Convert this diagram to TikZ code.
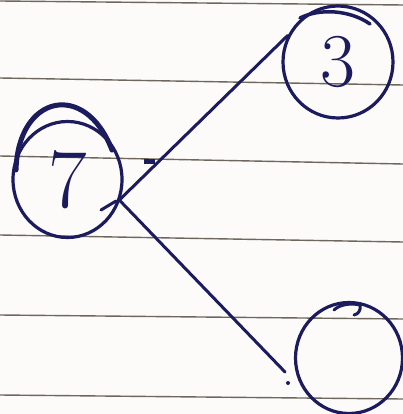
\documentclass[tikz,border=0pt]{standalone}
\usetikzlibrary{shapes.geometric}
\definecolor{ink}{HTML}{1B1B5E}
\definecolor{paper}{HTML}{FCFBFA}
\definecolor{rule}{HTML}{6E675C}
\begin{document}
\begin{tikzpicture}[x=1pt,y=-1pt,
  inkcircle/.style={draw=ink, line width=3.2pt, ellipse, inner sep=0pt,
    text=ink, font=\fontsize{84}{84}\selectfont},
  link/.style={draw=ink, line width=3pt, line cap=round},
  ruling/.style={draw=rule, line width=1.4pt}]
\fill[paper] (0,0) rectangle (403,414);
\useasboundingbox (0,0) rectangle (403,414);
% paper rulings
\draw[ruling] (0,1) -- (403,5);
\draw[ruling] (0,78) -- (403,85);
\draw[ruling] (0,156) -- (403,164);
\draw[ruling] (0,235) -- (403,242);
\draw[ruling] (0,315) -- (403,319);
\draw[ruling] (0,395) -- (403,399);
% nodes
\node[inkcircle, minimum width=109pt, minimum height=116pt] (n7) at (67.5,179.5) {7};
\node[inkcircle, minimum width=110pt, minimum height=112pt, font=\fontsize{76}{76}\selectfont] (n3) at (338,62) {3};
\node[inkcircle, minimum width=107pt, minimum height=111pt] (nb) at (349,358) {};
% overdrawn top strokes
\draw[ink, line width=5pt, line cap=round] (16,170) .. controls (18,95) and (85,80) .. (112,150);
\draw[ink, line width=3.5pt, line cap=round] (300,18) .. controls (320,8) and (350,10) .. (370,24);
\draw[ink, line width=3pt, line cap=round] (334,310) .. controls (340,304) and (352,303) .. (360,305) .. controls (361,311) and (358,314) .. (354,315);
% connectors
\coordinate (e2) at (285,372);
\draw[link] (n7.-20) -- (n3.152);
\draw[link] (n7.-22) -- (e2);
\draw[link] (101,210) -- (116,201);
\draw[ink, line width=5pt] (144,161) -- (155,161);
\fill[ink] (288,383) circle (2pt);
\end{tikzpicture}
\end{document}
